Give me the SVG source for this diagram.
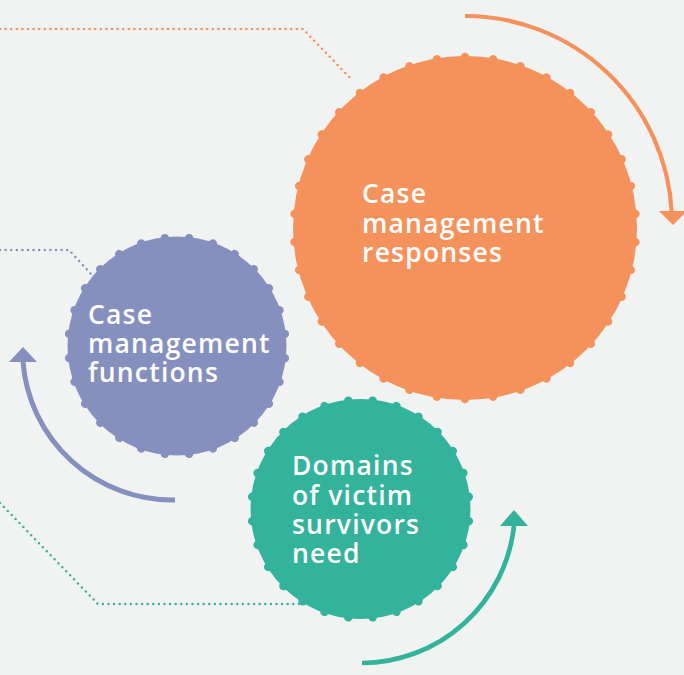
<svg xmlns="http://www.w3.org/2000/svg" width="684" height="675" viewBox="0 0 684 675">
  <style>
    .bg { fill: #F1F3F2; }
    .lbl { font-family: "Open Sans", "Liberation Sans", sans-serif; font-weight: 600; font-size: 26.5px; letter-spacing: 1.2px; fill: #FFFFFF; }
    .dots { fill: none; stroke-width: 2.5; stroke-linecap: round; stroke-dasharray: 0 5.6; }
    .arc { fill: none; }
    .o { fill: #F5925B; }
    .p { fill: #8590BF; }
    .t { fill: #33B29C; }
    .os { stroke: #F5925B; }
    .ps { stroke: #8590BF; }
    .ts { stroke: #33B29C; }
    .teeth { fill: none; stroke-width: 8.5; stroke-linecap: round; stroke-dasharray: 0 1; }
  </style>
  <rect class="bg" x="0" y="0" width="684" height="675"/>

  <g id="connectors">
    <polyline class="dots os" points="0,29 303,29 353,81"/>
    <polyline class="dots ps" points="0,250 69,250 91,274"/>
    <polyline class="dots ts" points="0,503 98,604 305,604"/>
    <path class="arc os" stroke-width="4.2" d="M465,16 A207,207 0 0 1 671.7,212"/>
    <polygon class="o" points="659,211 687,211 673,225"/>
    <path class="arc ps" stroke-width="5" d="M175,500 A150,150 0 0 1 23,362"/>
    <polygon class="p" points="9,362 37,362 23,347"/>
    <path class="arc ts" stroke-width="4.7" d="M362,663 A154,154 0 0 0 514,526"/>
    <polygon class="t" points="500,526 528,526 514,510"/>
  </g>

  <g id="node-responses">
    <circle class="o" cx="465" cy="228" r="172"/>
    <circle class="teeth os" cx="465" cy="228" r="171" pathLength="38" transform="rotate(4.74 465 228)"/>
    <text class="lbl" x="362" y="203">Case</text>
    <text class="lbl" x="362" y="232.5">management</text>
    <text class="lbl" x="362" y="262">responses</text>
  </g>

  <g id="node-functions">
    <circle class="p" cx="177" cy="346" r="109.5"/>
    <circle class="teeth ps" cx="177" cy="346" r="108.5" pathLength="28" transform="rotate(6.43 177 346)"/>
    <text class="lbl" x="88" y="324">Case</text>
    <text class="lbl" x="88" y="353">management</text>
    <text class="lbl" x="88" y="382">functions</text>
  </g>

  <g id="node-domains">
    <circle class="t" cx="360.5" cy="509" r="110"/>
    <circle class="teeth ts" cx="360.5" cy="509" r="109" pathLength="28" transform="rotate(6.43 360.5 509)"/>
    <text class="lbl" x="292" y="475">Domains</text>
    <text class="lbl" x="292" y="504.5">of victim</text>
    <text class="lbl" x="292" y="534">survivors</text>
    <text class="lbl" x="292" y="563">need</text>
  </g>
</svg>
